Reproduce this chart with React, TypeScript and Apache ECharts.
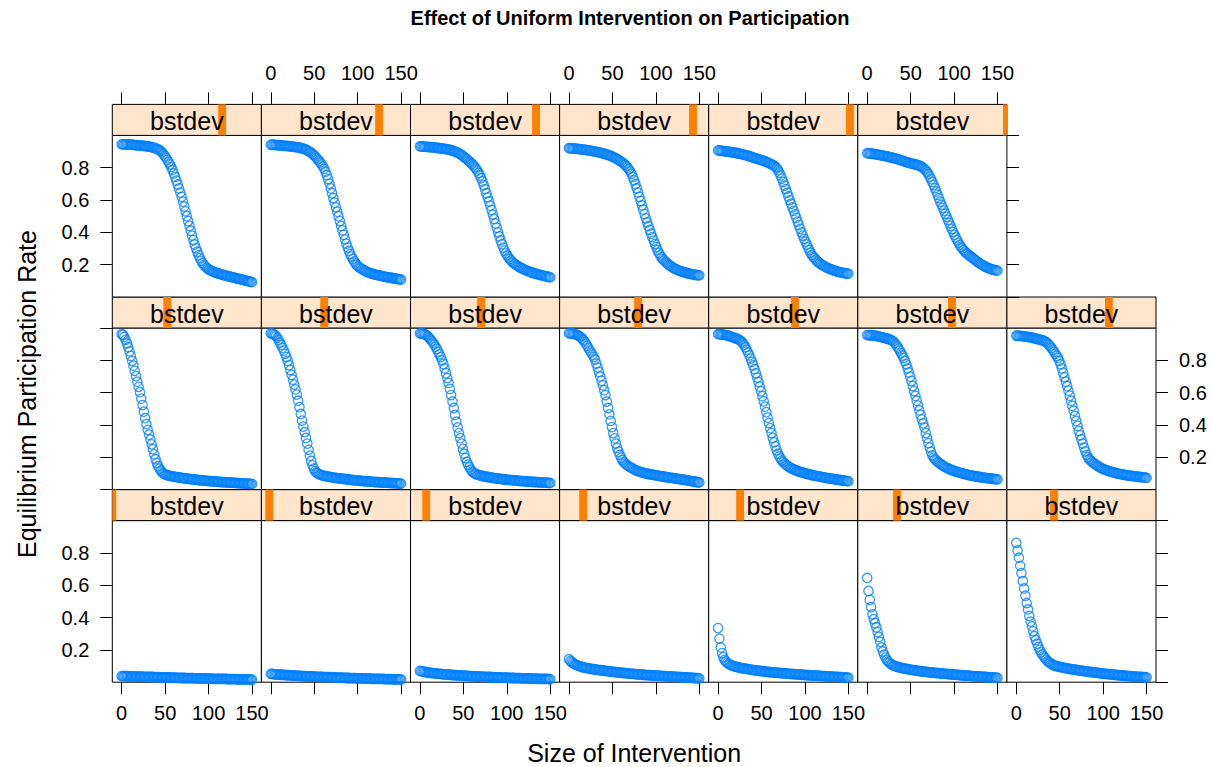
import React, { useEffect, useRef } from "react";
import * as echarts from "echarts";

// ---------- data ----------
const interventionSize = [
  0, 1.5, 3, 4.5, 6, 7.5, 9, 10.5, 12, 13.5,
  15, 16.5, 18, 19.5, 21, 22.5, 24, 25.5, 27, 28.5,
  30, 31.5, 33, 34.5, 36, 37.5, 39, 40.5, 42, 43.5,
  45, 46.5, 48, 49.5, 51, 52.5, 54, 55.5, 57, 58.5,
  60, 61.5, 63, 64.5, 66, 67.5, 69, 70.5, 72, 73.5,
  75, 76.5, 78, 79.5, 81, 82.5, 84, 85.5, 87, 88.5,
  90, 91.5, 93, 94.5, 96, 97.5, 99, 100.5, 102, 103.5,
  105, 106.5, 108, 109.5, 111, 112.5, 114, 115.5, 117, 118.5,
  120, 121.5, 123, 124.5, 126, 127.5, 129, 130.5, 132, 133.5,
  135, 136.5, 138, 139.5, 141, 142.5, 144, 145.5, 147, 148.5,
  150,
];

// panels in lattice order: bottom row left->right, then middle row, then top row
const rate01 = [
  .038, .0375, .037, .037, .037, .0365, .036, .036, .036, .0355,
  .035, .035, .035, .0345, .034, .034, .034, .0335, .033, .033,
  .033, .0325, .032, .032, .032, .0315, .031, .031, .031, .0305,
  .030, .030, .030, .0295, .029, .029, .029, .0285, .028, .028,
  .028, .0275, .027, .027, .027, .0265, .026, .026, .026, .0255,
  .025, .025, .025, .025, .025, .0245, .024, .024, .024, .0235,
  .023, .023, .023, .023, .023, .0225, .022, .022, .022, .0215,
  .021, .021, .021, .021, .021, .0205, .020, .020, .020, .020,
  .020, .0195, .019, .019, .019, .019, .019, .0185, .018, .018,
  .018, .018, .018, .0175, .017, .017, .017, .017, .017, .0165,
  .016,
];
const rate02 = [
  .052, .051, .050, .049, .048, .0475, .047, .0465, .046, .0455,
  .045, .0445, .044, .0435, .043, .0425, .042, .0415, .041, .0405,
  .040, .0395, .039, .0385, .038, .0375, .037, .0365, .036, .036,
  .036, .0355, .035, .0345, .034, .0335, .033, .033, .033, .0325,
  .032, .0315, .031, .031, .031, .0305, .030, .0295, .029, .029,
  .029, .0285, .028, .028, .028, .0275, .027, .0265, .026, .026,
  .026, .0255, .025, .025, .025, .0245, .024, .024, .024, .0235,
  .023, .023, .023, .0225, .022, .022, .022, .0215, .021, .021,
  .021, .021, .021, .0205, .020, .020, .020, .0195, .019, .019,
  .019, .019, .019, .0185, .018, .018, .018, .018, .018, .0175,
  .017,
];
const rate03 = [
  .070, .068, .066, .0645, .063, .0615, .060, .059, .058, .057,
  .056, .055, .054, .053, .052, .0515, .051, .050, .049, .0485,
  .048, .0475, .047, .046, .045, .0445, .044, .0435, .043, .0425,
  .042, .0415, .041, .0405, .040, .0395, .039, .0385, .038, .0375,
  .037, .0365, .036, .0355, .035, .035, .035, .0345, .034, .0335,
  .033, .0325, .032, .032, .032, .0315, .031, .0305, .030, .030,
  .030, .0295, .029, .0285, .028, .028, .028, .0275, .027, .0265,
  .026, .026, .026, .0255, .025, .025, .025, .0245, .024, .024,
  .024, .0235, .023, .023, .023, .0225, .022, .022, .022, .0215,
  .021, .021, .021, .0205, .020, .020, .020, .020, .020, .0195,
  .019,
];
const rate04 = [
  .142, .132, .125, .118, .113, .109, .105, .102, .099, .0965,
  .094, .092, .090, .0885, .087, .0855, .084, .0825, .081, .080,
  .079, .0775, .076, .075, .074, .073, .072, .071, .070, .069,
  .068, .067, .066, .065, .064, .063, .062, .061, .060, .059,
  .058, .0575, .057, .056, .055, .0545, .054, .053, .052, .0515,
  .051, .050, .049, .0485, .048, .0475, .047, .046, .045, .0445,
  .044, .0435, .043, .0425, .042, .0415, .041, .0405, .040, .0395,
  .039, .0385, .038, .0375, .037, .0365, .036, .0355, .035, .0345,
  .034, .0335, .033, .0325, .032, .0315, .031, .0305, .030, .0295,
  .029, .0285, .028, .0275, .027, .0265, .026, .0255, .025, .0245,
  .024,
];
const rate05 = [
  .335, .270, .215, .180, .155, .138, .127, .120, .114, .109,
  .105, .102, .099, .097, .095, .093, .091, .089, .087, .086,
  .085, .0835, .082, .0805, .079, .0775, .076, .075, .074, .073,
  .072, .071, .070, .069, .068, .067, .066, .065, .064, .063,
  .062, .0615, .061, .060, .059, .0585, .058, .057, .056, .0555,
  .055, .0545, .054, .053, .052, .0515, .051, .0505, .050, .0495,
  .049, .0485, .048, .047, .046, .0455, .045, .0445, .044, .0435,
  .043, .0425, .042, .0415, .041, .0405, .040, .0395, .039, .0385,
  .038, .0375, .037, .0365, .036, .0355, .035, .0345, .034, .0335,
  .033, .0325, .032, .0315, .031, .0305, .030, .0295, .029, .0285,
  .028,
];
const rate06 = [
  .645, .565, .510, .465, .420, .390, .365, .340, .310, .280,
  .250, .215, .190, .170, .152, .138, .128, .120, .114, .109,
  .104, .101, .098, .0955, .093, .091, .089, .087, .085, .0835,
  .082, .0805, .079, .0775, .076, .075, .074, .0725, .071, .070,
  .069, .068, .067, .066, .065, .064, .063, .062, .061, .0605,
  .060, .059, .058, .057, .056, .0555, .055, .054, .053, .0525,
  .052, .051, .050, .0495, .049, .048, .047, .0465, .046, .0455,
  .045, .044, .043, .0425, .042, .0415, .041, .0405, .040, .039,
  .038, .0375, .037, .0365, .036, .0355, .035, .0345, .034, .0335,
  .033, .032, .031, .0305, .030, .0295, .029, .0285, .028, .0275,
  .027,
];
const rate07 = [
  .862, .815, .770, .720, .675, .625, .580, .535, .490, .450,
  .410, .375, .345, .315, .285, .260, .238, .218, .200, .185,
  .172, .160, .150, .140, .130, .124, .118, .113, .108, .1045,
  .101, .099, .097, .095, .093, .0915, .090, .0885, .087, .0855,
  .084, .0825, .081, .0795, .078, .077, .076, .0745, .073, .072,
  .071, .070, .069, .0675, .066, .065, .064, .063, .062, .061,
  .060, .059, .058, .057, .056, .055, .054, .053, .052, .051,
  .050, .0495, .049, .048, .047, .046, .045, .0445, .044, .043,
  .042, .0415, .041, .040, .039, .0385, .038, .0375, .037, .036,
  .035, .0345, .034, .0335, .033, .0325, .032, .0315, .031, .0305,
  .030,
];
const rate08 = [
  .962, .957, .945, .927, .905, .881, .855, .827, .797, .767,
  .735, .702, .668, .636, .603, .563, .523, .482, .442, .405,
  .370, .340, .310, .280, .250, .218, .188, .164, .145, .129,
  .117, .107, .100, .095, .092, .0895, .087, .085, .083, .0815,
  .080, .0785, .077, .076, .075, .0735, .072, .071, .070, .069,
  .068, .067, .066, .065, .064, .063, .062, .061, .060, .059,
  .058, .0575, .057, .056, .055, .0545, .054, .053, .052, .0515,
  .051, .0505, .050, .049, .048, .0475, .047, .0465, .046, .0455,
  .045, .0445, .044, .0435, .043, .0425, .042, .0415, .041, .0405,
  .040, .0395, .039, .0385, .038, .0375, .037, .0365, .036, .0355,
  .035,
];
const rate09 = [
  .967, .965, .962, .957, .950, .939, .925, .910, .895, .878,
  .860, .840, .820, .796, .770, .740, .710, .680, .650, .620,
  .588, .550, .510, .468, .427, .390, .355, .320, .285, .246,
  .210, .177, .150, .130, .115, .106, .100, .096, .092, .0895,
  .087, .085, .083, .0815, .080, .0785, .077, .0755, .074, .073,
  .072, .071, .070, .069, .068, .067, .066, .065, .064, .063,
  .062, .061, .060, .059, .058, .0575, .057, .056, .055, .0545,
  .054, .053, .052, .0515, .051, .0505, .050, .049, .048, .0475,
  .047, .0465, .046, .0455, .045, .0445, .044, .0435, .043, .0425,
  .042, .0415, .041, .0405, .040, .0395, .039, .0385, .038, .0375,
  .037,
];
const rate10 = [
  .967, .966, .965, .963, .960, .956, .950, .941, .930, .921,
  .910, .898, .885, .870, .853, .837, .820, .800, .778, .750,
  .720, .690, .660, .623, .585, .545, .505, .462, .420, .385,
  .350, .318, .285, .252, .222, .195, .172, .154, .138, .124,
  .112, .105, .100, .096, .093, .0905, .088, .086, .084, .0825,
  .081, .0795, .078, .0765, .075, .074, .073, .0715, .070, .069,
  .068, .067, .066, .065, .064, .063, .062, .061, .060, .0595,
  .059, .058, .057, .0565, .056, .055, .054, .0535, .053, .0525,
  .052, .051, .050, .0495, .049, .0485, .048, .0475, .047, .0465,
  .046, .0455, .045, .0445, .044, .0435, .043, .0425, .042, .0415,
  .041,
];
const rate11 = [
  .967, .967, .966, .965, .963, .961, .958, .955, .950, .943,
  .935, .926, .915, .903, .890, .875, .860, .848, .835, .820,
  .805, .780, .755, .728, .700, .673, .645, .615, .585, .545,
  .505, .465, .425, .387, .350, .317, .285, .258, .235, .215,
  .197, .182, .170, .162, .155, .149, .143, .139, .135, .130,
  .125, .121, .117, .114, .111, .1085, .106, .104, .102, .100,
  .098, .0965, .095, .0935, .092, .0905, .089, .0875, .086, .0845,
  .083, .082, .081, .0795, .078, .077, .076, .0745, .073, .072,
  .071, .0695, .068, .067, .066, .0645, .063, .062, .061, .0595,
  .058, .0565, .055, .0535, .052, .051, .050, .0485, .047, .0455,
  .044,
];
const rate12 = [
  .962, .962, .961, .960, .959, .958, .956, .954, .952, .950,
  .947, .944, .941, .938, .935, .932, .928, .922, .915, .906,
  .895, .881, .865, .848, .830, .811, .790, .768, .745, .720,
  .693, .666, .637, .608, .578, .546, .513, .479, .445, .412,
  .380, .350, .320, .292, .267, .243, .222, .205, .192, .180,
  .170, .162, .155, .149, .143, .138, .133, .129, .125, .1215,
  .118, .115, .112, .1095, .107, .1045, .102, .100, .098, .096,
  .094, .092, .090, .088, .086, .0845, .083, .0815, .080, .0785,
  .077, .0755, .074, .0725, .071, .0695, .068, .067, .066, .0645,
  .063, .062, .061, .0595, .058, .057, .056, .055, .054, .053,
  .052,
];
const rate13 = [
  .956, .956, .955, .955, .954, .953, .952, .951, .949, .947,
  .945, .943, .941, .939, .937, .935, .932, .929, .926, .922,
  .917, .908, .898, .886, .873, .860, .845, .830, .815, .796,
  .775, .750, .725, .699, .672, .641, .610, .580, .550, .520,
  .490, .462, .435, .410, .384, .350, .318, .288, .260, .234,
  .212, .198, .188, .180, .172, .166, .160, .154, .149, .144,
  .139, .135, .131, .1275, .124, .121, .118, .115, .112, .1095,
  .107, .1045, .102, .100, .098, .096, .094, .092, .090, .0885,
  .087, .0855, .084, .0825, .081, .0795, .078, .0765, .075, .074,
  .073, .072, .071, .070, .069, .068, .067, .066, .065, .064,
  .063,
];
const rate14 = [
  .952, .952, .951, .951, .950, .949, .948, .947, .946, .945,
  .943, .942, .940, .938, .936, .934, .932, .930, .928, .926,
  .923, .921, .917, .912, .905, .897, .887, .877, .865, .853,
  .840, .828, .815, .797, .775, .750, .722, .695, .668, .640,
  .612, .581, .550, .519, .488, .456, .425, .394, .363, .336,
  .310, .285, .260, .237, .215, .200, .188, .180, .172, .166,
  .160, .154, .148, .143, .138, .134, .130, .1265, .123, .120,
  .117, .1145, .112, .1095, .107, .105, .103, .101, .099, .0975,
  .096, .0945, .093, .0915, .090, .0885, .087, .086, .085, .084,
  .083, .082, .081, .080, .079, .078, .077, .076, .075, .074,
  .073,
];
const rate15 = [
  .945, .945, .944, .944, .944, .9435, .943, .9425, .942, .941,
  .940, .9395, .939, .938, .937, .9365, .936, .935, .934, .933,
  .932, .9305, .929, .927, .925, .923, .920, .917, .913, .909,
  .903, .895, .885, .874, .862, .849, .835, .821, .805, .786,
  .765, .743, .720, .696, .672, .646, .620, .590, .560, .530,
  .500, .470, .440, .410, .380, .352, .325, .301, .280, .259,
  .240, .224, .210, .199, .190, .182, .175, .170, .165, .1615,
  .158, .1545, .151, .1485, .146, .1435, .141, .1385, .136, .134,
  .132, .130, .128, .126, .124, .122, .120, .118, .116, .114,
  .112, .110, .108, .106, .104, .102, .100, .098, .096, .094,
  .092,
];
const rate16 = [
  .942, .942, .941, .941, .940, .9395, .939, .9385, .938, .937,
  .936, .9355, .935, .934, .933, .932, .931, .930, .929, .928,
  .927, .9255, .924, .922, .920, .9175, .915, .912, .908, .903,
  .898, .893, .886, .878, .870, .861, .852, .842, .832, .821,
  .808, .793, .775, .754, .730, .702, .672, .642, .612, .584,
  .555, .528, .500, .470, .440, .412, .385, .357, .330, .306,
  .285, .266, .250, .234, .220, .208, .198, .190, .183, .1775,
  .172, .1675, .163, .159, .155, .1515, .148, .1455, .143, .141,
  .139, .137, .135, .1335, .132, .130, .128, .1265, .125, .1235,
  .122, .1205, .119, .1175, .116, .1145, .113, .1115, .110, .1085,
  .107,
];
const rate17 = [
  .932, .9315, .931, .9305, .930, .9295, .929, .928, .927, .9265,
  .926, .925, .924, .923, .922, .921, .920, .919, .918, .9165,
  .915, .9135, .912, .910, .908, .9055, .903, .900, .897, .893,
  .889, .884, .879, .8725, .866, .8595, .853, .846, .838, .831,
  .823, .814, .805, .794, .782, .768, .752, .735, .715, .692,
  .667, .642, .617, .591, .565, .538, .510, .483, .455, .428,
  .400, .375, .350, .327, .305, .287, .270, .257, .245, .235,
  .225, .217, .210, .203, .197, .192, .187, .1825, .178, .174,
  .170, .1665, .163, .160, .157, .154, .151, .1485, .146, .1435,
  .141, .139, .137, .135, .133, .131, .129, .1275, .126, .124,
  .122,
];
const rate18 = [
  .921, .9205, .920, .9195, .919, .918, .917, .916, .915, .914,
  .913, .912, .911, .910, .909, .9075, .906, .9045, .903, .9015,
  .900, .8985, .897, .895, .893, .891, .889, .8865, .884, .8815,
  .879, .876, .873, .8695, .866, .862, .858, .853, .848, .843,
  .838, .832, .826, .818, .810, .801, .790, .777, .762, .743,
  .722, .698, .673, .647, .620, .594, .567, .540, .513, .487,
  .462, .438, .415, .392, .370, .349, .328, .309, .290, .273,
  .258, .246, .235, .226, .218, .211, .204, .198, .192, .186,
  .180, .176, .172, .1685, .165, .162, .159, .1565, .154, .1515,
  .149, .147, .145, .143, .141, .1395, .138, .137, .136, .135,
  .134,
];
const rate19 = [
  .907, .906, .905, .904, .903, .902, .901, .900, .899, .8975,
  .896, .895, .894, .8925, .891, .8895, .888, .886, .884, .882,
  .880, .878, .876, .8735, .871, .8685, .866, .863, .860, .8575,
  .855, .8525, .850, .8475, .845, .8425, .840, .8365, .833, .829,
  .825, .821, .817, .812, .806, .797, .785, .770, .752, .733,
  .712, .690, .668, .645, .622, .600, .577, .555, .533, .511,
  .490, .467, .445, .422, .400, .380, .360, .342, .325, .307,
  .290, .274, .260, .249, .240, .231, .222, .215, .208, .2025,
  .197, .1925, .188, .184, .180, .1765, .173, .170, .167, .164,
  .161, .1585, .156, .154, .152, .1505, .149, .1475, .146, .145,
  .144,
];
const rate20 = [
  .890, .889, .888, .887, .886, .885, .884, .8825, .881, .8795,
  .878, .8765, .875, .8735, .872, .870, .868, .866, .864, .862,
  .860, .858, .856, .8535, .851, .8485, .846, .8435, .841, .838,
  .835, .8325, .830, .828, .826, .824, .822, .820, .818, .8155,
  .813, .809, .805, .799, .792, .783, .772, .760, .745, .729,
  .712, .693, .673, .653, .632, .611, .590, .571, .552, .534,
  .515, .496, .477, .458, .440, .421, .402, .384, .367, .352,
  .337, .323, .310, .300, .290, .281, .273, .266, .259, .253,
  .248, .241, .235, .228, .222, .216, .210, .205, .200, .195,
  .190, .186, .182, .1785, .175, .1725, .170, .168, .166, .1645,
  .163,
];

const panelRates = [
  rate01, rate02, rate03, rate04, rate05, rate06, rate07,
  rate08, rate09, rate10, rate11, rate12, rate13, rate14,
  rate15, rate16, rate17, rate18, rate19, rate20,
];
// bstdev level index of each panel (shown by the strip bar)
const bstdevLevel = [0, 1, 2, 3, 4, 5, 6, 7, 8, 9, 10, 11, 12, 13, 14, 15, 16, 17, 18, 19];

const xTickValues = [0, 50, 100, 150];
const yTickStep = 0.2;

const titleText = "Effect of Uniform Intervention on Participation";
const xTitle = "Size of Intervention";
const yTitle = "Equilibrium Participation Rate";
const stripText = "bstdev";

// ---------- layout ----------
const FONT = "'Liberation Sans', Arial, Helvetica, sans-serif";
const PANEL_LEFT = 112.3;
const PANEL_W = 149.1;
const ROW0_TOP = 104.4;
const STRIP_H = 31;
const PANEL_H = 161.6;
const NCOL = 7;

function buildOption() {
  const grid: any[] = [];
  const xAxis: any[] = [];
  const yAxis: any[] = [];
  const series: any[] = [];

  panelRates.forEach((rates, p) => {
    const row = 2 - Math.floor(p / NCOL);
    const col = p % NCOL;
    const left = PANEL_LEFT + col * PANEL_W;
    const stripTop = ROW0_TOP + row * (STRIP_H + PANEL_H);
    const panelTop = stripTop + STRIP_H;
    const gi = grid.length;

    grid.push({
      left, top: panelTop, width: PANEL_W, height: PANEL_H,
      show: true, backgroundColor: "#fff", borderColor: "#000", borderWidth: 1,
    });
    grid.push({
      left, top: stripTop, width: PANEL_W, height: STRIP_H,
      show: true, backgroundColor: "#ffe5cc", borderColor: "#000", borderWidth: 1,
    });

    const lastCol = row === 0 ? 5 : 6;
    const isLeft = col === 0;
    const isRight = col === lastCol;
    const xLabelShow = (row === 2 && col % 2 === 0) || (row === 0 && col % 2 === 1);

    xAxis.push({
      gridIndex: gi, type: "value", min: -10.8, max: 160.8,
      position: row === 0 ? "top" : "bottom",
      offset: row === 0 ? STRIP_H : 0,
      axisLine: { show: false, onZero: false }, splitLine: { show: false },
      axisTick: {
        show: row !== 1, customValues: xTickValues, length: 12, inside: false,
        lineStyle: { color: "#000", width: 1 },
      },
      axisLabel: {
        show: xLabelShow, customValues: xTickValues, margin: 21,
        fontSize: 20, color: "#000", fontFamily: FONT,
      },
    });
    yAxis.push({
      gridIndex: gi, type: "value", min: 0, max: 1, interval: yTickStep,
      position: isRight ? "right" : "left",
      axisLine: { show: false, onZero: false }, splitLine: { show: false },
      axisTick: {
        show: isLeft || isRight, length: 12, inside: false,
        lineStyle: { color: "#000", width: 1 },
      },
      axisLabel: {
        show: (isLeft && row !== 1) || (isRight && row === 1),
        showMinLabel: false, showMaxLabel: false, margin: 23,
        fontSize: 20, color: "#000", fontFamily: FONT,
        formatter: (v: number) => (v <= 0.001 || v >= 0.999 ? "" : v.toFixed(1)),
      },
    });
    // strip axes
    xAxis.push({ gridIndex: gi + 1, type: "value", min: 0, max: bstdevLevel.length - 1, show: false });
    yAxis.push({ gridIndex: gi + 1, type: "value", min: 0, max: 1, show: false });

    series.push({
      type: "scatter", xAxisIndex: gi, yAxisIndex: gi, silent: true,
      symbol: "circle", symbolSize: 9.4,
      itemStyle: { color: "rgba(0,0,0,0)", borderColor: "#0080ff", borderWidth: 1.3 },
      data: interventionSize.map((x, k) => [x, rates[k]]),
    });
    series.push({
      type: "custom", xAxisIndex: gi + 1, yAxisIndex: gi + 1, silent: true,
      data: [[bstdevLevel[p]]],
      renderItem: (params: any, api: any) => {
        const lv = api.value(0);
        const a = api.coord([lv - 0.5, 1]);
        const b = api.coord([lv + 0.5, 0]);
        const cs = params.coordSys;
        const r = echarts.graphic.clipRectByRect(
          { x: a[0], y: a[1], width: b[0] - a[0], height: b[1] - a[1] },
          { x: cs.x, y: cs.y, width: cs.width, height: cs.height }
        );
        const children: any[] = [];
        if (r) children.push({ type: "rect", shape: r, style: { fill: "#ff7f00" } });
        children.push({
          type: "text", x: cs.x + cs.width / 2, y: cs.y + cs.height / 2 + 1,
          style: {
            text: stripText, fontSize: 25, fontFamily: FONT, fill: "#000",
            align: "center", verticalAlign: "middle",
            textAlign: "center", textVerticalAlign: "middle",
          },
        });
        return { type: "group", children };
      },
    });
  });

  const centerX = PANEL_LEFT + (NCOL * PANEL_W) / 2;
  const graphic = [
    {
      type: "text", x: 630, y: 18,
      style: {
        text: titleText, fontSize: 20, fontWeight: "bold", fontFamily: FONT, fill: "#000",
        align: "center", verticalAlign: "middle", textAlign: "center", textVerticalAlign: "middle",
      },
    },
    {
      type: "text", x: centerX, y: 753,
      style: {
        text: xTitle, fontSize: 25, fontFamily: FONT, fill: "#000",
        align: "center", verticalAlign: "middle", textAlign: "center", textVerticalAlign: "middle",
      },
    },
    {
      type: "text", x: 27, y: 394, rotation: Math.PI / 2,
      style: {
        text: yTitle, fontSize: 25, fontFamily: FONT, fill: "#000",
        align: "center", verticalAlign: "middle", textAlign: "center", textVerticalAlign: "middle",
      },
    },
  ];

  return {
    animation: false,
    backgroundColor: "#fff",
    grid, xAxis, yAxis, series, graphic,
  };
}

export default function App() {
  const ref = useRef<HTMLDivElement>(null);
  useEffect(() => {
    if (!ref.current) return;
    const chart = echarts.init(ref.current, undefined, { renderer: "svg" });
    chart.setOption(buildOption() as any);
    return () => chart.dispose();
  }, []);
  return (
    <div
      ref={ref}
      style={{ position: "fixed", left: 0, top: 0, width: 1212, height: 767, background: "#fff" }}
    />
  );
}
